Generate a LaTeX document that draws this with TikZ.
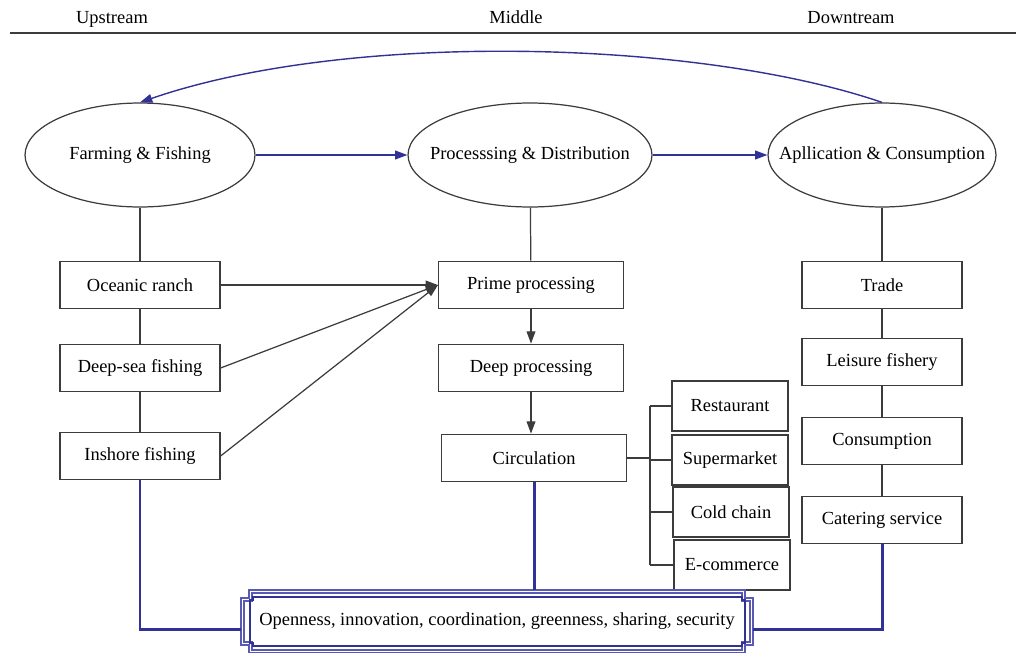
\documentclass[tikz,border=0pt]{standalone}
\usepackage{fontspec}
\setmainfont{Liberation Serif}
\usetikzlibrary{shapes.geometric,arrows.meta}
\definecolor{chainblue}{RGB}{50,50,150}
\definecolor{linegray}{RGB}{60,60,60}
\definecolor{framelight}{RGB}{90,90,180}
% notched frame: x1,y1,x2,y2,notch
\newcommand{\notchrect}[5]{(#1+#5,#2)--(#3-#5,#2)--(#3-#5,#2+#5)--(#3,#2+#5)--(#3,#4-#5)--(#3-#5,#4-#5)--(#3-#5,#4)--(#1+#5,#4)--(#1+#5,#4-#5)--(#1,#4-#5)--(#1,#2+#5)--(#1+#5,#2+#5)--cycle}
\tikzset{
	stage/.style={ellipse,draw=linegray,line width=0.7pt,minimum width=4.6cm,minimum height=2.08cm,inner sep=0pt},
	box/.style={draw=linegray,line width=0.7pt,minimum width=3.2cm,minimum height=0.95cm,inner sep=2pt},
	midbox/.style={box,minimum width=3.7cm},
	shop/.style={box,minimum width=2.32cm,minimum height=1cm},
	link/.style={linegray,line width=0.7pt},
	flow/.style={chainblue,line width=0.8pt},
	base/.style={chainblue,line width=1.7pt},
}
\begin{document}
\begin{tikzpicture}[x=0.02cm,y=-0.02cm,font=\fontsize{10.5}{12}\selectfont,>={Triangle[length=7pt,width=5pt]}]
	\useasboundingbox (0,0) rectangle (1016,652);
	% header
	\foreach \x/\t in {112/Upstream,516/Middle,851/Downtream}\node[anchor=base] (\t) at (\x,24) {\t};
	\draw[linegray,line width=0.9pt] (10,33) -- (1016,33);
	% chain stages
	\node[stage] (farm) at (140,155) {\makebox[0pt]{Farming \& Fishing}};
	\node[stage,minimum width=4.88cm] (proc) at (530,155) {\makebox[0pt]{Processsing \& Distribution}};
	\node[stage,minimum width=4.56cm] (app) at (882,155) {\makebox[0pt]{Apllication \& Consumption}};
	% upstream
	\node[box] (oceanic) at (140,285) {Oceanic ranch};
	\node[box] (deepsea) at (140,368) {Deep-sea fishing};
	\node[box] (inshore) at (140,456) {Inshore fishing};
	% middle
	\node[midbox] (prime) at (531,285) {Prime processing};
	\node[midbox] (deep) at (531,368) {Deep processing};
	\node[midbox] (circ) at (534,458) {Circulation};
	\node[shop] (rest) at (730,406) {Restaurant};
	\node[shop] (super) at (730,460) {Supermarket};
	\node[shop] (cold) at (731,512) {Cold chain};
	\node[shop] (ecom) at (732,565) {E-commerce};
	% downstream
	\node[box] (trade) at (882,285) {Trade};
	\node[box] (leisure) at (882,362) {Leisure fishery};
	\node[box] (consum) at (882,441) {Consumption};
	\node[box] (catering) at (882,520) {Catering service};
	% principles
	\node[minimum width=10.24cm,minimum height=1.24cm,inner sep=0pt] (goals) at (497,621) {Openness, innovation, coordination, greenness, sharing, security};
	\draw[framelight,line width=0.6pt] \notchrect{241}{590}{753}{653}{8};
	\draw[framelight,line width=0.6pt] \notchrect{244}{593}{750}{650}{8};
	\draw[chainblue,line width=0.7pt] \notchrect{250}{597}{745}{646}{3};
	% connectors
	\foreach \a/\b in {farm/oceanic,oceanic/deepsea,deepsea/inshore,proc/prime,app/trade,trade/leisure,leisure/consum,consum/catering}\draw[link] (\a) -- (\b);
	\foreach \a in {oceanic,deepsea,inshore}\draw[link,->] (\a.east) -- (prime.west);
	\draw[link,->] (prime) -- (deep);
	\draw[link,->] (deep.south) -- (deep.south |- circ.north);
	\coordinate (bus) at (650,458);
	\draw[link] (circ.east) -- (bus);
	\draw[link] (bus |- rest) -- (bus |- ecom);
	\foreach \n in {rest,super,cold,ecom}\draw[link] (bus |- \n) -- (\n.west);
	\draw[flow,->] (farm) -- (proc);
	\draw[flow,->] (proc) -- (app);
	\draw[flow,->] (app.north) .. controls (700,40) and (350,30) .. (farm.north);
	\draw[base] (inshore.south) |- ([yshift=-5pt]goals.west);
	\draw[base] (circ.south) -- (circ.south |- goals.north);
	\draw[base] (catering.south) |- ([yshift=-5pt]goals.east);
\end{tikzpicture}
\end{document}
